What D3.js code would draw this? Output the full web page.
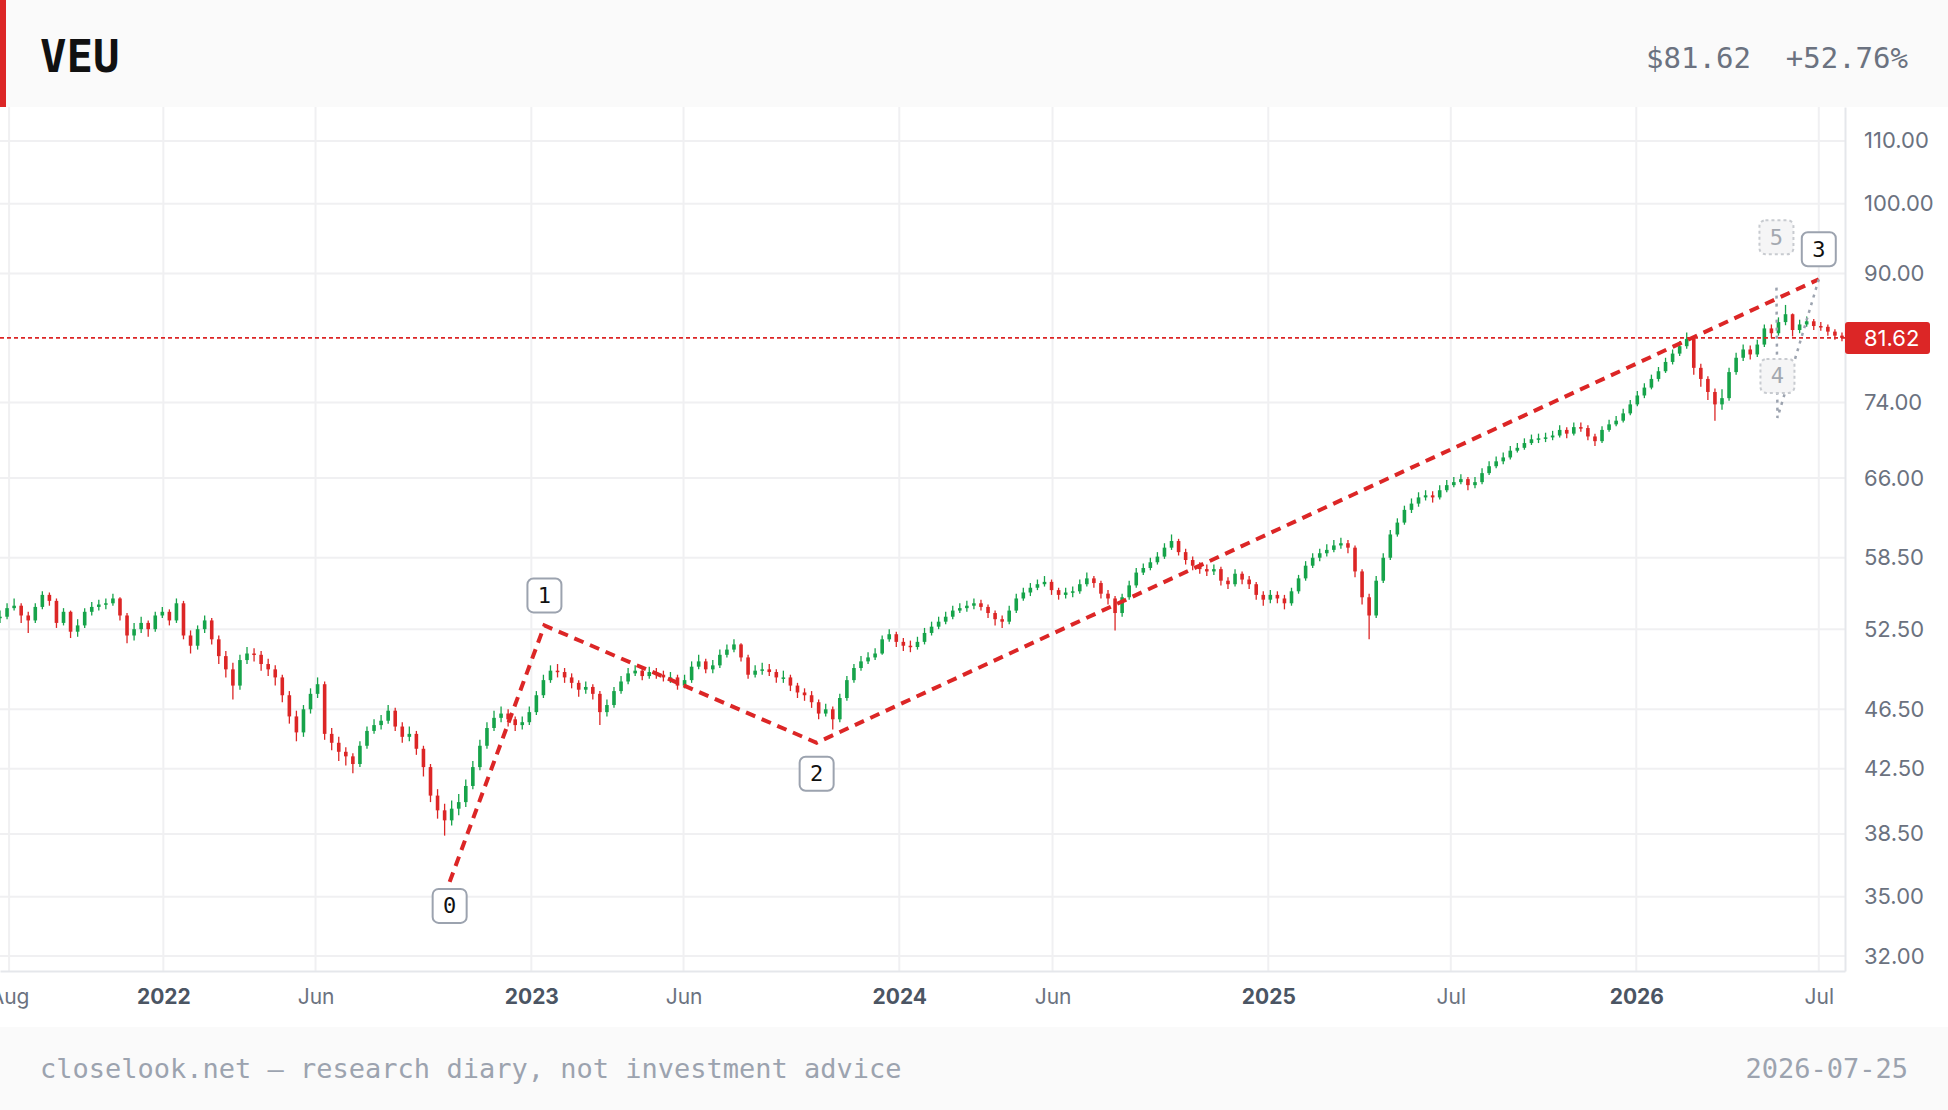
<!DOCTYPE html>
<html><head><meta charset="utf-8">
<script src="https://cdn.jsdelivr.net/npm/d3@7"></script>
<style>
html,body{margin:0;padding:0;background:#fff;}
svg{display:block;}
</style></head><body>
<svg id="c" width="1948" height="1110"></svg>
<script>
const ticker = "VEU";
const lastPrice = 81.62;
const changePct = "+52.76%";
const footerNote = "closelook.net — research diary, not investment advice";
const footerDate = "2026-07-25";
const firstWeek = "2021-07-23";
const xDomain = ["2021-07-23", "2026-07-27"];
const yDomain = [31.28, 115.8];
const yTicks = [32, 35, 38.5, 42.5, 46.5, 52.5, 58.5, 66, 74, 90, 100, 110];
const xTickDates = ["2021-08-01","2022-01-01","2022-06-01","2023-01-01","2023-06-01","2024-01-01","2024-06-01","2025-01-01","2025-07-01","2026-01-01","2026-07-01"];
const xTickLabels = ["Aug","2022","Jun","2023","Jun","2024","Jun","2025","Jul","2026","Jul"];
const xTickIsYear = [false,true,false,true,false,true,false,true,false,true,false];

const firstOpen = 53.43;
const weekClose = [53.5,54.2,54.4,53.6,53.2,54.3,55.3,54.8,53.0,53.9,
52.3,52.8,53.9,54.3,54.5,54.6,55.0,53.6,52.0,52.5,
53.0,52.5,53.6,53.9,53.2,54.6,52.0,51.2,52.5,53.2,
51.7,50.4,49.4,48.2,50.1,50.6,50.5,49.8,49.4,48.8,
47.5,46.0,44.9,46.5,47.6,48.3,44.8,44.2,43.6,43.3,
42.8,44.0,45.0,45.4,45.7,46.4,45.3,44.6,44.8,43.8,
42.6,40.8,39.9,39.3,40.0,40.4,41.4,42.6,44.0,45.2,
45.9,46.2,45.8,45.4,45.6,46.3,47.5,48.6,49.3,49.2,
48.8,48.4,47.9,48.1,47.6,46.3,46.8,47.8,48.5,49.1,
49.3,48.9,49.2,49.0,48.8,48.8,48.2,48.6,49.6,50.0,
49.4,49.7,50.5,50.9,51.3,50.3,49.0,49.3,49.4,49.2,
48.8,48.8,48.2,47.7,47.5,47.0,46.2,46.5,45.8,47.3,
48.6,49.5,50.0,50.3,50.6,51.7,52.1,51.5,51.2,51.1,
51.5,52.2,52.7,53.1,53.5,54.0,54.2,54.4,54.6,54.3,
53.8,53.3,53.1,54.0,55.0,55.5,55.9,56.2,56.4,55.7,
55.3,55.5,55.6,56.2,56.7,56.3,55.4,55.0,53.8,55.1,
56.1,57.2,57.6,58.1,58.6,59.4,60.0,59.0,58.3,57.8,
57.5,57.3,57.5,56.5,56.2,57.1,56.6,56.2,55.3,54.9,
55.3,55.0,54.6,55.6,56.7,57.8,58.5,58.9,59.2,59.6,
59.8,59.4,57.3,55.1,53.6,56.5,58.5,60.6,61.7,62.9,
63.5,64.1,64.3,64.1,64.8,65.3,65.6,65.9,65.3,65.6,
66.5,67.2,67.7,68.1,68.8,69.1,69.6,70.0,70.1,70.2,
70.4,71.0,70.6,71.3,71.2,70.3,69.8,71.0,71.6,72.0,
72.8,73.8,74.8,75.7,76.7,77.6,78.7,79.7,80.6,81.5,
78.0,76.7,75.2,73.8,74.5,77.5,79.2,80.2,79.6,80.8,
82.8,82.2,83.6,84.6,82.6,83.3,83.7,83.1,83.0,82.4,
81.9,81.62];
const weekHigh = [54.0,54.6,55.0,54.6,53.9,54.6,55.6,55.5,55.0,54.2,
54.0,53.3,54.2,54.7,54.9,55.0,55.4,55.1,53.8,53.0,
53.5,53.2,53.9,54.3,54.1,55.0,54.8,52.4,52.8,53.6,
53.4,52.0,50.8,49.9,50.5,51.1,51.0,50.8,50.2,49.7,
49.0,47.8,46.4,46.8,48.0,48.8,48.5,45.2,44.6,43.9,
43.5,44.3,45.3,45.8,46.1,46.8,46.6,45.6,45.3,45.0,
44.0,42.8,41.2,40.3,40.5,40.9,41.8,43.0,44.4,45.6,
46.4,46.7,46.5,46.0,46.0,46.7,47.8,49.0,49.7,49.8,
49.5,49.1,48.6,48.5,48.3,47.8,47.2,48.1,48.9,49.5,
49.7,49.6,49.6,49.5,49.3,49.2,49.0,49.0,50.0,50.5,
50.2,50.1,50.9,51.3,51.7,51.4,50.5,49.7,49.9,49.8,
49.4,49.3,49.0,48.4,48.0,47.8,47.2,46.9,46.7,47.6,
48.9,49.8,50.4,50.7,51.0,52.0,52.5,52.3,51.8,51.6,
51.9,52.6,53.1,53.5,53.9,54.4,54.6,54.8,55.0,54.9,
54.5,54.0,53.6,54.4,55.4,55.9,56.3,56.6,56.9,56.6,
55.9,55.9,56.0,56.6,57.2,56.9,56.5,55.7,55.2,55.4,
56.5,57.6,58.0,58.5,59.0,59.8,60.6,60.2,59.3,58.6,
58.1,57.9,57.9,57.7,56.8,57.5,57.3,56.9,56.4,55.6,
55.7,55.6,55.3,55.9,57.0,58.2,58.9,59.3,59.7,60.1,
60.3,60.1,59.6,57.5,55.4,56.9,58.9,61.0,62.1,63.3,
64.0,64.6,64.8,64.7,65.3,65.8,66.1,66.4,66.1,66.1,
67.0,67.7,68.2,68.6,69.3,69.6,70.1,70.5,70.6,70.7,
70.9,71.5,71.3,71.8,71.8,71.5,70.6,71.4,72.1,72.5,
73.3,74.3,75.3,76.2,77.2,78.1,79.2,80.2,81.2,82.3,
81.7,78.5,77.0,75.6,75.5,78.0,79.8,80.8,80.7,81.4,
83.3,83.3,84.2,85.8,84.7,83.9,84.3,84.0,83.6,83.3,
82.7,82.3];
const weekLow = [53.0,53.3,54.0,53.0,52.2,53.0,54.1,54.4,52.6,52.8,
51.8,51.9,52.6,53.6,54.0,54.1,54.4,53.2,51.4,51.6,
52.2,51.9,52.3,53.4,52.8,53.0,51.7,50.6,50.9,52.2,
51.3,49.8,48.8,47.2,47.9,49.8,50.0,49.3,48.9,48.2,
47.0,45.5,44.3,44.6,46.2,47.3,44.4,43.7,43.0,42.7,
42.2,42.6,43.8,44.8,45.1,45.5,45.0,44.2,44.3,43.4,
42.0,40.4,39.4,38.4,39.0,39.6,40.1,41.2,42.4,43.8,
45.0,45.6,45.3,45.0,45.1,45.4,46.1,47.3,48.4,48.8,
48.4,48.0,47.4,47.6,47.2,45.4,46.0,46.6,47.6,48.3,
48.9,48.6,48.7,48.7,48.5,48.4,47.9,48.0,48.4,49.4,
49.1,49.1,49.5,50.3,50.7,50.0,48.7,48.8,49.0,48.9,
48.4,48.4,47.8,47.3,47.1,46.6,45.8,46.0,45.1,45.6,
47.1,48.4,49.3,49.8,50.1,50.5,51.5,51.1,50.8,50.7,
50.9,51.3,52.0,52.5,52.9,53.3,53.8,53.9,54.1,54.0,
53.4,52.8,52.6,52.9,53.8,54.8,55.2,55.7,56.0,55.3,
54.9,55.0,55.1,55.4,56.0,55.9,55.0,54.5,52.4,53.5,
54.9,55.9,57.0,57.4,57.9,58.4,59.2,58.7,57.9,57.4,
57.1,56.9,57.0,56.1,55.8,56.0,56.2,55.8,54.9,54.4,
54.6,54.6,54.1,54.4,55.4,56.5,57.6,58.2,58.6,59.0,
59.3,58.9,56.8,54.5,51.7,53.4,56.3,58.3,60.4,61.5,
62.6,63.2,63.8,63.6,63.9,64.6,65.1,65.4,64.8,65.0,
65.4,66.3,67.0,67.4,67.9,68.6,68.9,69.4,69.6,69.7,
69.9,70.2,70.1,70.4,70.8,69.9,69.3,69.6,70.8,71.4,
71.8,72.6,73.6,74.5,75.5,76.4,77.4,78.4,79.4,80.3,
77.2,75.8,74.3,72.0,73.2,74.2,77.2,78.8,79.0,79.3,
80.5,81.6,81.9,83.2,81.8,82.2,83.0,82.6,82.5,81.9,
81.4,81.2];

const waveDates = ["2022-10-12","2023-01-14","2023-10-11","2026-07-01"];
const waveValues = [35.8, 52.8, 44.2, 89.2];
const waveLabels = ["0","1","2","3"];
const ghostDates = ["2026-07-01","2026-05-21","2026-05-20"];
const ghostValues = [89.2, 72.3, 88.4];
const ghostLabels = ["4","5"];

// ---------- drawing ----------
const W = 1948, H = 1110;
const plot = {left: 0, right: 1845, top: 107, bottom: 971};
const svg = d3.select("#c");
const parse = d3.timeParse("%Y-%m-%d");
const RED = "#dc2626", GREEN = "#16a34a";
const MONO = "'DejaVu Sans Mono', monospace";
const SANS = "Inter, 'Noto Sans', sans-serif";

const x = d3.scaleTime().domain(xDomain.map(parse)).range([plot.left, plot.right]);
const y = d3.scaleLog().domain(yDomain).range([plot.bottom, plot.top]);

// header
svg.append("rect").attr("x",0).attr("y",0).attr("width",W).attr("height",plot.top).attr("fill","#fafafa");
svg.append("rect").attr("x",0).attr("y",0).attr("width",6).attr("height",plot.top).attr("fill",RED);
svg.append("text").attr("x",40).attr("y",72).attr("font-family",MONO).attr("font-weight",700)
  .attr("font-size",44).attr("fill","#111").text(ticker);
svg.append("text").attr("x",1908).attr("y",68).attr("text-anchor","end").attr("font-family",MONO)
  .attr("font-size",29).attr("fill","#6b7280").style("white-space","pre")
  .text("$" + lastPrice.toFixed(2) + "  " + changePct);

// footer
svg.append("rect").attr("x",0).attr("y",1027).attr("width",W).attr("height",H-1027).attr("fill","#fafafa");
svg.append("text").attr("x",40).attr("y",1078).attr("font-family",MONO).attr("font-size",27)
  .attr("fill","#9ca3af").text(footerNote);
svg.append("text").attr("x",1908).attr("y",1078).attr("text-anchor","end").attr("font-family",MONO)
  .attr("font-size",27).attr("fill","#9ca3af").text(footerDate);

// grid
const grid = svg.append("g");
grid.selectAll("line.h").data(yTicks).join("line")
  .attr("x1",plot.left).attr("x2",plot.right).attr("y1",d=>y(d)).attr("y2",d=>y(d))
  .attr("stroke","#f0f0f2").attr("stroke-width",2);
grid.selectAll("line.v").data(xTickDates).join("line")
  .attr("x1",d=>x(parse(d))).attr("x2",d=>x(parse(d))).attr("y1",plot.top).attr("y2",plot.bottom)
  .attr("stroke","#f0f0f2").attr("stroke-width",2);

// axes
const yAxis = d3.axisRight(y).tickValues(yTicks).tickFormat(d=>d.toFixed(2)).tickSize(0).tickPadding(19);
const gy = svg.append("g").attr("transform",`translate(${plot.right},0)`).call(yAxis);
gy.select(".domain").attr("stroke","#e5e7eb").attr("stroke-width",2);
gy.selectAll("text").attr("font-family",SANS).attr("font-size",22).attr("fill","#6b7280");

const xAxis = d3.axisBottom(x).tickValues(xTickDates.map(parse)).tickFormat((d,i)=>xTickLabels[i]).tickSize(0).tickPadding(18);
const gx = svg.append("g").attr("transform",`translate(0,${plot.bottom})`).call(xAxis);
gx.select(".domain").attr("stroke","#e5e7eb").attr("stroke-width",2);
gx.selectAll("text").attr("font-family",SANS).attr("font-size",21)
  .attr("font-weight",(d,i)=>xTickIsYear[i]?700:400)
  .attr("fill",(d,i)=>xTickIsYear[i]?"#4b5563":"#6b7280");

// clip
svg.append("clipPath").attr("id","clip").append("rect")
  .attr("x",plot.left).attr("y",plot.top).attr("width",plot.right-plot.left).attr("height",plot.bottom-plot.top);

// candles
const start = parse(firstWeek);
const candles = weekClose.map((c,i)=>({
  date: d3.timeDay.offset(start, 7*i),
  open: i===0 ? firstOpen : weekClose[i-1],
  high: weekHigh[i], low: weekLow[i], close: c
}));
const cg = svg.append("g").attr("clip-path","url(#clip)");
const bodyW = 3.6;
cg.selectAll("line.wick").data(candles).join("line")
  .attr("x1",d=>x(d.date)).attr("x2",d=>x(d.date))
  .attr("y1",d=>y(d.high)).attr("y2",d=>y(d.low))
  .attr("stroke",d=>d.close>=d.open?GREEN:RED).attr("stroke-width",1.3);
cg.selectAll("rect.body").data(candles).join("rect")
  .attr("x",d=>x(d.date)-bodyW/2).attr("width",bodyW)
  .attr("y",d=>y(Math.max(d.open,d.close)))
  .attr("height",d=>Math.max(1.5, Math.abs(y(d.open)-y(d.close))))
  .attr("fill",d=>d.close>=d.open?GREEN:RED);

// last price line
svg.append("line").attr("x1",plot.left).attr("x2",plot.right)
  .attr("y1",y(lastPrice)).attr("y2",y(lastPrice))
  .attr("stroke",RED).attr("stroke-width",1.6).attr("stroke-dasharray","4 3");

// wave lines
const wpts = waveDates.map((d,i)=>[x(parse(d)), y(waveValues[i])]);
svg.append("path").attr("d",d3.line()(wpts)).attr("fill","none")
  .attr("stroke",RED).attr("stroke-width",4).attr("stroke-dasharray","10 7");

// ghost projection
const gpts = ghostDates.map((d,i)=>[x(parse(d)), y(ghostValues[i])]);
svg.append("path").attr("d",d3.line()(gpts)).attr("fill","none")
  .attr("stroke","#9ca3af").attr("stroke-width",2.5).attr("stroke-dasharray","3 5");

function labelBox(cx, cy, txt, ghost){
  const g = svg.append("g");
  g.append("rect").attr("x",cx-17).attr("y",cy-17).attr("width",34).attr("height",34).attr("rx",6)
    .attr("fill", ghost ? "#f5f5f6" : "#fff")
    .attr("stroke", ghost ? "#c8cbd0" : "#9ca3af").attr("stroke-width",2)
    .attr("stroke-dasharray", ghost ? "3 3" : null);
  g.append("text").attr("x",cx).attr("y",cy).attr("text-anchor","middle").attr("dominant-baseline","central")
    .attr("font-family",MONO).attr("font-size",22).attr("fill", ghost ? "#a3a8b0" : "#111").text(txt);
}
// wave labels: below troughs, above peaks
wpts.forEach((p,i)=>{
  const prev = i>0 ? waveValues[i-1] : null, next = i<waveValues.length-1 ? waveValues[i+1] : null;
  const isLow = (next!==null && waveValues[i] < next) || (next===null && waveValues[i] < prev);
  const off = isLow ? (i===0 ? 24 : 31) : -30;
  labelBox(p[0], p[1] + off, waveLabels[i], false);
});
labelBox(gpts[1][0], gpts[1][1]-42, ghostLabels[0], true);
labelBox(gpts[2][0], gpts[2][1]-48, ghostLabels[1], true);

// price badge
const py = y(lastPrice);
svg.append("rect").attr("x",plot.right).attr("y",py-16).attr("width",85).attr("height",32).attr("rx",3).attr("fill",RED);
svg.append("text").attr("x",plot.right+19).attr("y",py).attr("dominant-baseline","central")
  .attr("font-family",SANS).attr("font-size",22).attr("fill","#fff").text(lastPrice.toFixed(2));
</script>
</body></html>
